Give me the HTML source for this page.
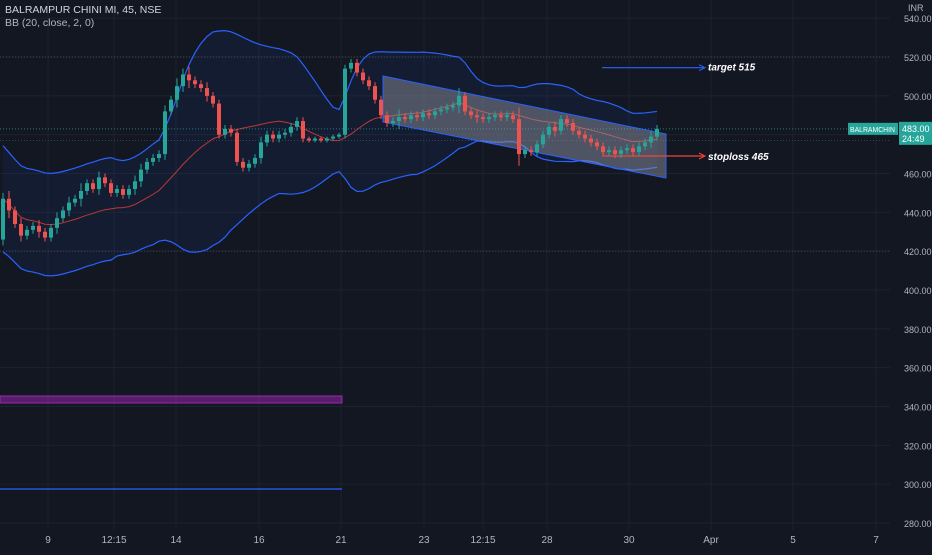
<!DOCTYPE html>
<html><head><meta charset="utf-8"><style>
body{margin:0;background:#131722;width:932px;height:550px;overflow:hidden;font-family:"Liberation Sans",sans-serif}
svg text{font-family:"Liberation Sans",sans-serif}
</style></head><body>
<svg id="c" width="932" height="550" xmlns="http://www.w3.org/2000/svg">
<rect width="932" height="550" fill="#131722"/>
<g id="grid"></g>
<g id="bb"></g>
<g id="draw"></g>
<g id="candles"></g>
<g id="axes"></g>
<text x="5" y="13" fill="#d1d4dc" font-size="10.5">BALRAMPUR CHINI MI, 45, NSE</text>
<text x="5" y="26" fill="#b2b5be" font-size="10.5">BB (20, close, 2, 0)</text>
</svg>
<script>
const closes=[447,441,434,428,431,433,430,427,432,437,
441,445,447,451,455,452,458,455,450,452,
449,452,456,462,466,468,470,492,498,505,
511,508,506,504,500,496,480,483,481,466,
463,465,468,476,480,478,480,481,484,487,
478,477,478,477,478,479,480,514,517,512,
508,505,498,490,486,487,489,488,490,489,
491,490,492,493,494,495,500,492,490,489,
488,489,490,489,490,488,470,472,471,475,
480,484,482,488,486,482,480,478,476,474,
471,472,470,472,473,471,474,476,479,483];
const firstOpen=426;
const wicks=[3,4,2,3,2,2,3,2,2,3,2,3,2,4,2,2,3,2,2,2,2,2,3,3,2,2,2,3,2,4,3,4,2,2,3,2,2,2,2,2,2,2,2,3,2,2,2,2,2,2,2,1,1,1,1,1,1,2,2,2,2,2,2,2,2,2,4,2,2,2,2,2,2,2,2,2,4,2,2,3,2,2,2,2,2,2,6,2,2,2,2,2,3,2,2,2,2,2,2,2,2,2,2,2,2,2,2,2,3,2];
const priceTicks=[540,520,500,480,460,440,420,400,380,360,340,320,300,280];
const timeLabels=["9","12:15","14","16","21","23","12:15","28","30","Apr","5","7"];
const timeLabelX=[48,114,176,259,341,424,483,547,629,711,793,876];
const currentPrice=483;
const targetPrice=515, stopPrice=465;
const NS="http://www.w3.org/2000/svg";
const y=p=>57+(520-p)*1.9417;
const x=i=>3+i*6;
function mk(t,a,par){const e=document.createElementNS(NS,t);for(const k in a)e.setAttribute(k,a[k]);document.getElementById(par).appendChild(e);return e;}
priceTicks.forEach(p=>{const e=mk('line',{x1:0,x2:890,y1:y(p),y2:y(p),stroke:'#1e222d'},'grid');

});
timeLabelX.forEach(v=>{const e=mk('line',{x1:v,x2:v,y1:0,y2:530,stroke:'#1e222d'},'grid');

});
[[520,'#50535e'],[483,'#26a69a'],[477,'#50535e'],[420,'#50535e']].forEach(([p,c])=>{const e=mk('line',{x1:0,x2:890,y1:y(p),y2:y(p),stroke:c,'stroke-dasharray':'1 2','stroke-opacity':0.7},'grid');

});
// BB (smoothed, widened to match display)
const mid=[],up=[],lo=[];
let sdPrev=12;
closes.forEach((c,i)=>{const s=closes.slice(Math.max(0,i-19),i+1);const m=s.reduce((a,b)=>a+b,0)/s.length;
let sd=Math.sqrt(s.reduce((a,b)=>a+(b-m)*(b-m),0)/s.length);sd=Math.max(sd,6);
if(s.length<20)sd=Math.max(sd,11);
sd=0.6*sd+0.4*sdPrev;sdPrev=sd;
mid.push(m);up.push(m+2.4*sd);lo.push(m-2.4*sd);});
const pts=a=>a.map((v,i)=>x(i)+','+y(v)).join(' ');
let e=mk('polygon',{points:pts(up)+' '+lo.map((v,i)=>[x(i),y(v)]).reverse().map(q=>q.join(',')).join(' '),fill:'#2962ff','fill-opacity':0.07},'bb');

e=mk('polyline',{points:pts(up),fill:'none',stroke:'#2962ff','stroke-width':1.2},'bb');

e=mk('polyline',{points:pts(lo),fill:'none',stroke:'#2962ff','stroke-width':1.2},'bb');

e=mk('polyline',{points:pts(mid),fill:'none',stroke:'#f44336','stroke-opacity':0.75,'stroke-width':1},'bb');

e=mk('polygon',{points:'383,76 666,134 666,178 383,122',fill:'#9598a1','fill-opacity':0.45,stroke:'#2962ff','stroke-width':1},'draw');

e=mk('rect',{x:0,y:396,width:342,height:7,fill:'#9c27b0','fill-opacity':0.5,stroke:'#9c27b0'},'draw');

e=mk('line',{x1:0,x2:342,y1:489,y2:489,stroke:'#2962ff','stroke-width':1.2},'draw');

e=mk('line',{x1:602,x2:704,y1:y(targetPrice)+1,y2:y(targetPrice)+1,stroke:'#2962ff','stroke-width':1.2},'draw');

e=mk('path',{d:'M699,'+(y(targetPrice)-2)+' L705,'+(y(targetPrice)+1)+' L699,'+(y(targetPrice)+4),fill:'none',stroke:'#2962ff'},'draw');

e=mk('text',{x:708,y:y(targetPrice)+4,fill:'#fff','font-size':10,'font-style':'italic','font-weight':'bold'},'draw');e.textContent='target '+targetPrice;

e=mk('polyline',{points:'603,148 603,156 704,156',fill:'none',stroke:'#f44336','stroke-width':1.2},'draw');

e=mk('path',{d:'M699,153 L705,156 L699,159',fill:'none',stroke:'#f44336'},'draw');

e=mk('text',{x:708,y:160,fill:'#fff','font-size':10,'font-style':'italic','font-weight':'bold'},'draw');e.textContent='stoploss '+stopPrice;

closes.forEach((c,i)=>{const o=i?closes[i-1]:firstOpen;const col=c>=o?'#26a69a':'#ef5350';
const hi=Math.max(o,c)+wicks[i],lw=Math.min(o,c)-wicks[i];
let w=mk('line',{x1:x(i),x2:x(i),y1:y(hi),y2:y(lw),stroke:col,'stroke-width':1},'candles');

let b=mk('rect',{x:x(i)-2,y:y(Math.max(o,c)),width:4,height:Math.max(1,Math.abs(y(o)-y(c))),fill:col},'candles');
});
priceTicks.forEach(p=>{const t=mk('text',{x:904,y:y(p)+4,fill:'#b2b5be','font-size':9},'axes');t.textContent=p.toFixed(2);
});
e=mk('text',{x:908,y:11,fill:'#b2b5be','font-size':9},'axes');e.textContent='INR';

timeLabels.forEach((l,i)=>{const t=mk('text',{x:timeLabelX[i],y:543,fill:'#b2b5be','font-size':10,'text-anchor':'middle'},'axes');t.textContent=l;
});
const cy=y(currentPrice);
e=mk('rect',{x:848,y:cy-6,width:50,height:12,fill:'#26a69a'},'axes');

e=mk('text',{x:850,y:cy+3,fill:'#fff','font-size':7.5,textLength:45,lengthAdjust:'spacingAndGlyphs'},'axes');e.textContent='BALRAMCHIN';

e=mk('rect',{x:899,y:cy-7,width:33,height:23,fill:'#26a69a'},'axes');

e=mk('text',{x:902,y:cy+3,fill:'#fff','font-size':9},'axes');e.textContent=currentPrice.toFixed(2);

e=mk('text',{x:902,y:cy+13,fill:'#fff','font-size':9},'axes');e.textContent='24:49';

</script>
</body></html>
